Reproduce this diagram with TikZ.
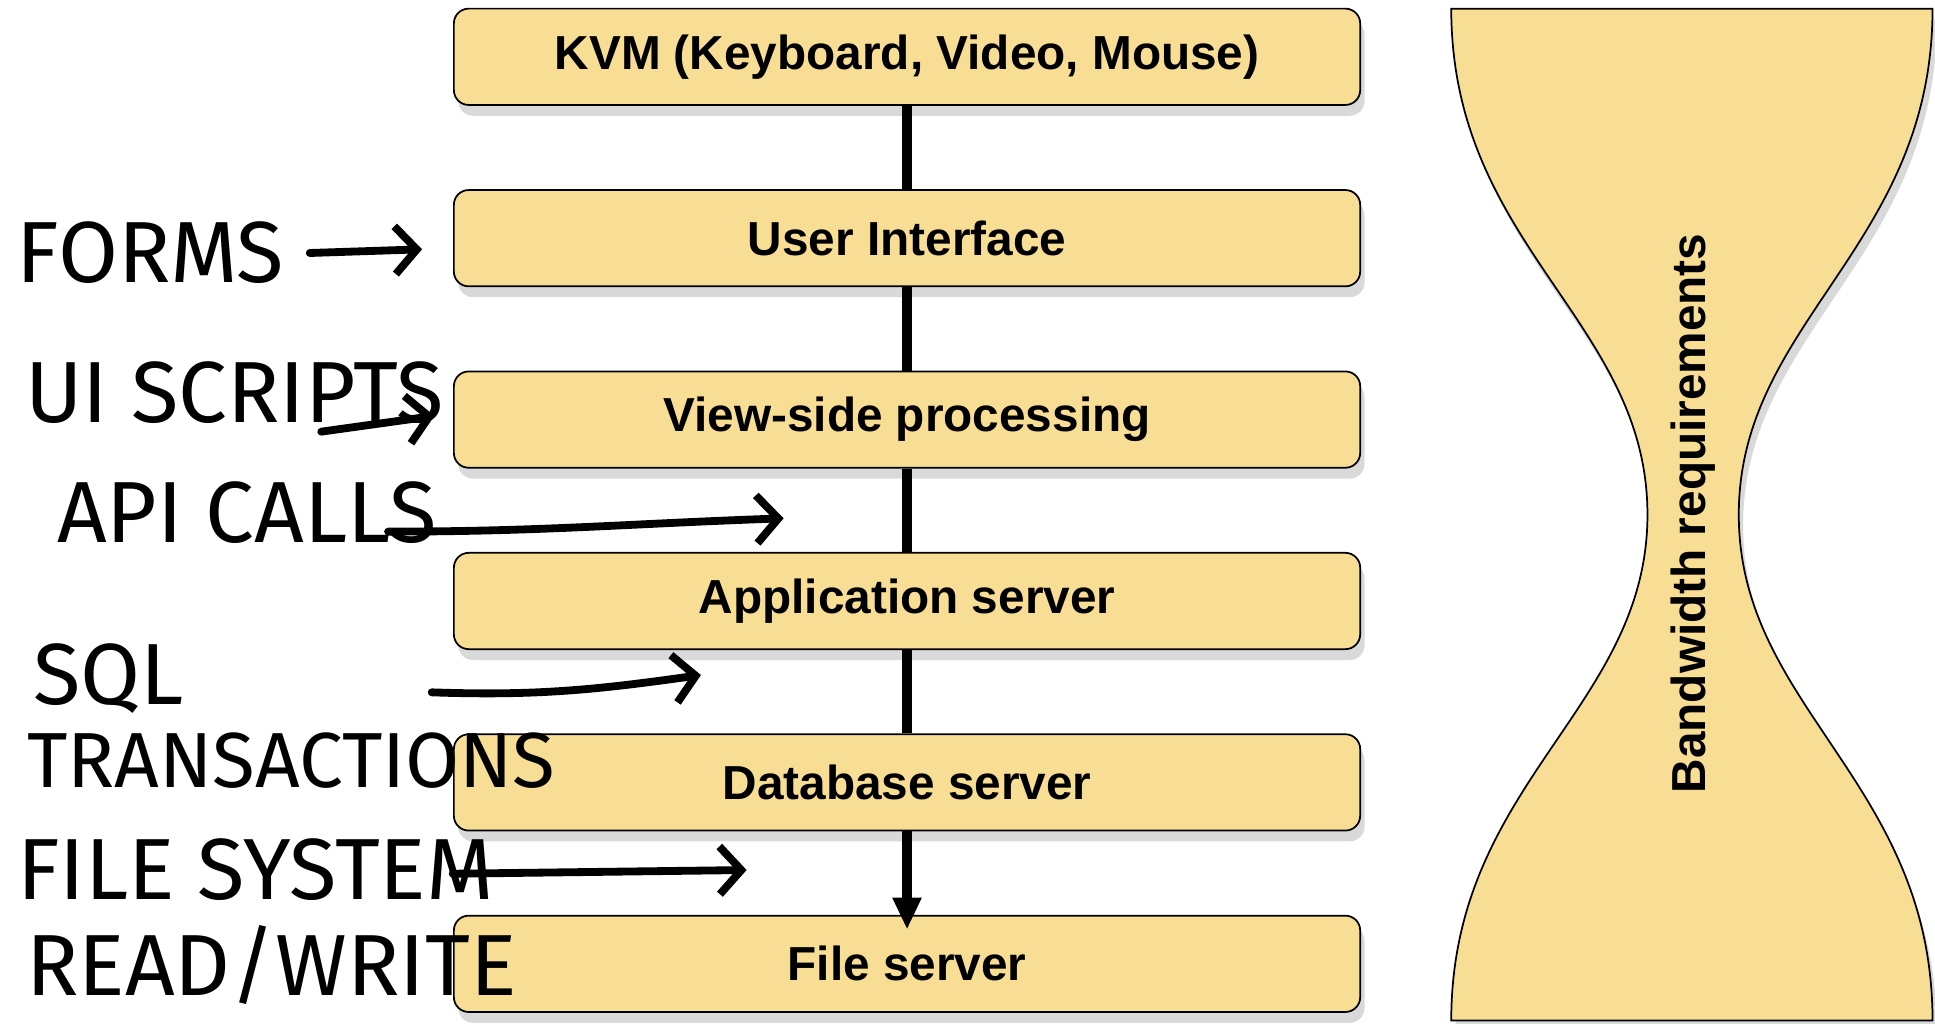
\documentclass[tikz,border=0pt]{standalone}
\usepackage{fontspec}
\setmainfont{Liberation Sans}
\newfontfamily\handfont{Fira Sans}
\usetikzlibrary{arrows.meta,shadows}
\definecolor{boxfill}{HTML}{F8DD94}
\tikzset{
  layer/.style={draw, thin, fill=boxfill, rounded corners=0.12cm,
    minimum width=7.34cm, minimum height=0.78cm,
    font=\fontsize{11}{13}\selectfont\bfseries,
    drop shadow={shadow xshift=1pt, shadow yshift=-2.5pt, opacity=.3}},
  hand/.style={font=\handfont\fontsize{20}{22}\selectfont, inner sep=0pt},
  scrawl/.style={line width=1.8pt, line cap=round,
    -{Straight Barb[length=5pt,width=11pt]}},
}
\begin{document}
\begin{tikzpicture}[x=0.01cm, y=-0.01cm]
\useasboundingbox (0,0) rectangle (1568,829);
% the stack of layers
\node[layer] (kvm) at (735,46) {KVM (Keyboard, Video, Mouse)};
\node[layer] (ui) at (735,193) {User Interface};
\node[layer] (view) at (735,340) {View-side processing};
\node[layer] (app) at (735,487) {Application server};
\node[layer] (db) at (735,634) {Database server};
\node[layer] (file) at (735,781) {File server};
\draw[line width=2.2pt] (kvm) -- (ui);
\draw[line width=2.2pt] (ui) -- (view);
\draw[line width=2.2pt] (view) -- (app);
\draw[line width=2.2pt] (app) -- (db);
\draw[line width=2.2pt, -{Triangle[length=0.26cm,width=0.22cm]}, shorten >=-0.12cm] (db) -- (file);

% hourglass
\draw[thin, fill=boxfill, drop shadow={shadow xshift=1pt, shadow yshift=-2.5pt, opacity=.3}]
  (1176,7) -- (1566,7) .. controls (1566,200) and (1409,260) .. (1409,417)
  .. controls (1409,574) and (1566,634) .. (1566,827) -- (1176,827)
  .. controls (1176,634) and (1335,574) .. (1335,417)
  .. controls (1335,260) and (1176,200) .. cycle;
\node[rotate=90, font=\fontsize{11}{13}\selectfont\bfseries] (bw) at (1372,416) {Bandwidth requirements};

% scribbles
\node[hand] (forms) at (122,205) {FORMS};
\node[hand] (uiscr) at (190,318) {UI SCRIPTS};
\node[hand] (api) at (200,415) {API CALLS};
\node[hand] (sql) at (88,550) {SQL};
\node[hand, font=\handfont\fontsize{18}{20}\selectfont] (trans) at (236,616) {TRANSACTIONS};
\node[hand] (fsys) at (207,705) {FILE SYSTEM};
\node[hand] (rw) at (220,782) {READ/WRITE};
\coordinate (formsTip) at (342,202);
\coordinate (uiTip) at (352,337);
\coordinate (apiTip) at (635,420);
\coordinate (sqlTip) at (568,547);
\coordinate (fsTip) at (605,705);
\draw[scrawl] ([xshift=0.2cm]forms.east) -- (formsTip);
\draw[scrawl] ([xshift=-1cm,yshift=-0.06cm]uiscr.south east) -- (uiTip);
\draw[scrawl] ([xshift=-0.4cm,yshift=0.1cm]api.south east) to[out=0,in=182] (apiTip);
\draw[scrawl] ([xshift=2cm,yshift=-0.11cm]sql.east) to[out=-2,in=188] (sqlTip);
\draw[scrawl] ([xshift=-0.34cm,yshift=-0.03cm]fsys.east) -- (fsTip);
\end{tikzpicture}
\end{document}
